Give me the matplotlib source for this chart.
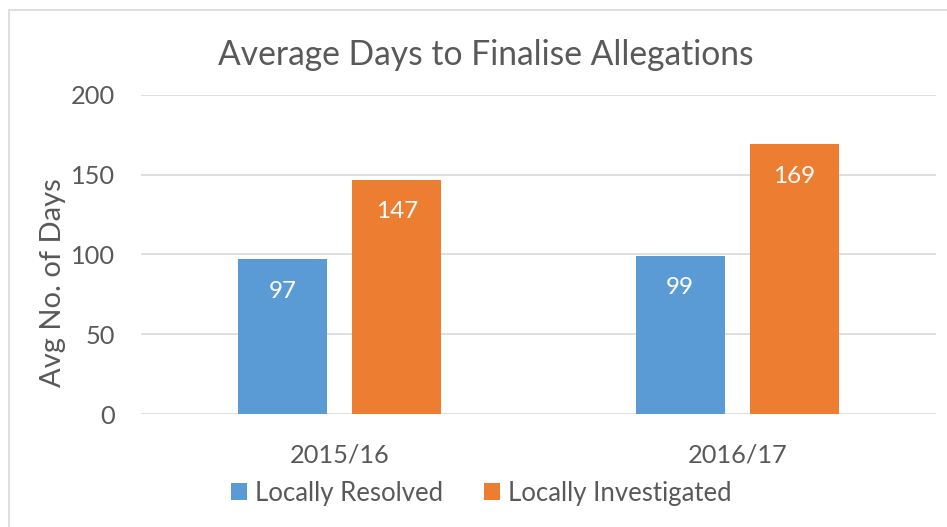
import matplotlib.pyplot as plt
from matplotlib.patches import Rectangle
import numpy as np

plt.rcParams['font.family'] = ['Lato', 'DejaVu Sans']

categories = ['2015/16', '2016/17']
series_names = ['Locally Resolved', 'Locally Investigated']
resolved = [97, 99]
investigated = [147, 169]
colors = ['#5b9bd5', '#ed7d31']
text_col = '#595959'

fig = plt.figure(figsize=(9.47, 5.27), dpi=100)
fig.patches.append(Rectangle((9 / 947, -0.1), 1.2, 1.1 - 10 / 527, transform=fig.transFigure,
                             fill=False, edgecolor='#d9d9d9', linewidth=1.2))
ax = fig.add_axes([141 / 947, 113 / 527, 795 / 947, (414 - 95) / 527])

x = np.arange(len(categories))
w = 0.2235
off = 0.1435
b1 = ax.bar(x - off, resolved, w, color=colors[0], label=series_names[0], zorder=3)
b2 = ax.bar(x + off, investigated, w, color=colors[1], label=series_names[1], zorder=3)

for bars in (b1, b2):
    for r in bars:
        ax.text(r.get_x() + r.get_width() / 2, r.get_height() - 20, str(int(r.get_height())),
                ha='center', va='center', color='white', fontsize=17.5)

ax.set_xlim(-0.5, 1.5)
ax.set_ylim(0, 200)
ax.set_yticks([0, 50, 100, 150, 200])
ax.set_xticks(x)
ax.set_xticklabels(categories)
ax.grid(axis='y', color='#d9d9d9', linewidth=1.2, zorder=0)
for s in ax.spines.values():
    s.set_visible(False)
ax.tick_params(length=0, labelsize=18.3, labelcolor=text_col)
ax.tick_params(axis='y', pad=19)
ax.tick_params(axis='x', pad=21)

# y label placed like the reference (sits a bit lower than the axes centre)
fig.text(53 / 947, 1 - 283 / 527, 'Avg No. of Days', rotation=90, ha='center', va='center',
         fontsize=21, color=text_col)

fig.text(486 / 947, 1 - 55 / 527, 'Average Days to Finalise Allegations', ha='center', va='center',
         fontsize=24.2, color=text_col)

fig.legend(handles=[b1, b2], labels=series_names, loc='center',
           bbox_to_anchor=(481.5 / 947, 1 - 493 / 527), ncol=2, frameon=False,
           fontsize=18.5, labelcolor=text_col, handlelength=0.62, handleheight=0.62,
           handletextpad=0.31, columnspacing=1.6)

fig.savefig('out.png', dpi=100)
